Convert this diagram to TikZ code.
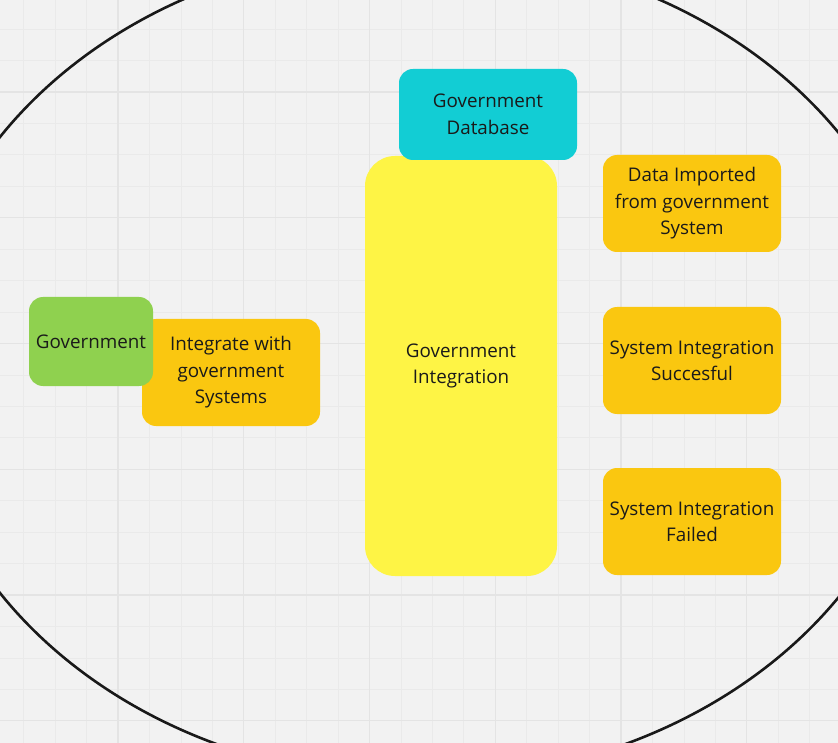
\documentclass[tikz,border=0pt]{standalone}
\usepackage{fontspec}
\setmainfont{Open Sans}
\usepackage{xcolor}

\definecolor{bgpaper}{HTML}{F2F2F2}
\definecolor{gridminor}{HTML}{EAEAEA}
\definecolor{gridmajor}{HTML}{E4E4E4}
\definecolor{govgreen}{HTML}{8FD14F}
\definecolor{stickyorange}{HTML}{FAC710}
\definecolor{stickyyellow}{HTML}{FEF445}
\definecolor{dbcyan}{HTML}{12CDD4}
\definecolor{inktext}{HTML}{1A1A1A}

\tikzset{
  sticky/.style={rectangle, rounded corners=14pt, draw=none, align=center,
    text=inktext, font=\fontsize{18.8}{26.5}\selectfont, inner sep=0pt},
}

\begin{document}
\begin{tikzpicture}[x=1pt,y=-1pt]
  % Board
  \useasboundingbox (0,0) rectangle (838,743);
  \fill[bgpaper] (0,0) rectangle (838,743);
  \clip (0,0) rectangle (838,743);

  % Grid
  \foreach \i in {0,...,26} {
    \draw[gridminor, line width=0.8pt] ({23.7+31.44*\i},0) -- ({23.7+31.44*\i},743);
    \draw[gridminor, line width=0.8pt] (0,{-2.3+31.44*\i}) -- (838,{-2.3+31.44*\i});
  }
  \foreach \i in {0,...,6} {
    \draw[gridmajor, line width=1.1pt] ({118+125.75*\i},0) -- ({118+125.75*\i},743);
    \draw[gridmajor, line width=1.1pt] (0,{92+125.75*(\i-1)}) -- (838,{92+125.75*(\i-1)});
  }

  % Boundary ellipse
  \draw[black!90, line width=2.6pt] (421,365) ellipse (504 and 414.6);

  % Central block
  \node[sticky, fill=stickyyellow, rounded corners=30pt, minimum width=192pt,
    minimum height=420pt] (govinteg) at (461,366) {Government\\Integration};
  \node[sticky, fill=dbcyan, minimum width=178pt, minimum height=91pt]
    (govdb) at (488,114.5) {Government\\Database};

  % Left side
  \node[sticky, fill=stickyorange, minimum width=178pt, minimum height=107pt]
    (integrate) at (231,372.5) {Integrate with\\government\\Systems};
  \node[sticky, fill=govgreen, minimum width=124pt, minimum height=89pt]
    (gov) at (91,341.5) {Government};

  % Outcomes
  \node[sticky, fill=stickyorange, minimum width=178pt, minimum height=97pt]
    (imported) at (692,203.5) {Data Imported\\from government\\System};
  \node[sticky, fill=stickyorange, minimum width=178pt, minimum height=107pt]
    (success) at (692,360.5) {System Integration\\Succesful};
  \node[sticky, fill=stickyorange, minimum width=178pt, minimum height=107pt]
    (failed) at (692,521.5) {System Integration\\Failed};
\end{tikzpicture}
\end{document}
